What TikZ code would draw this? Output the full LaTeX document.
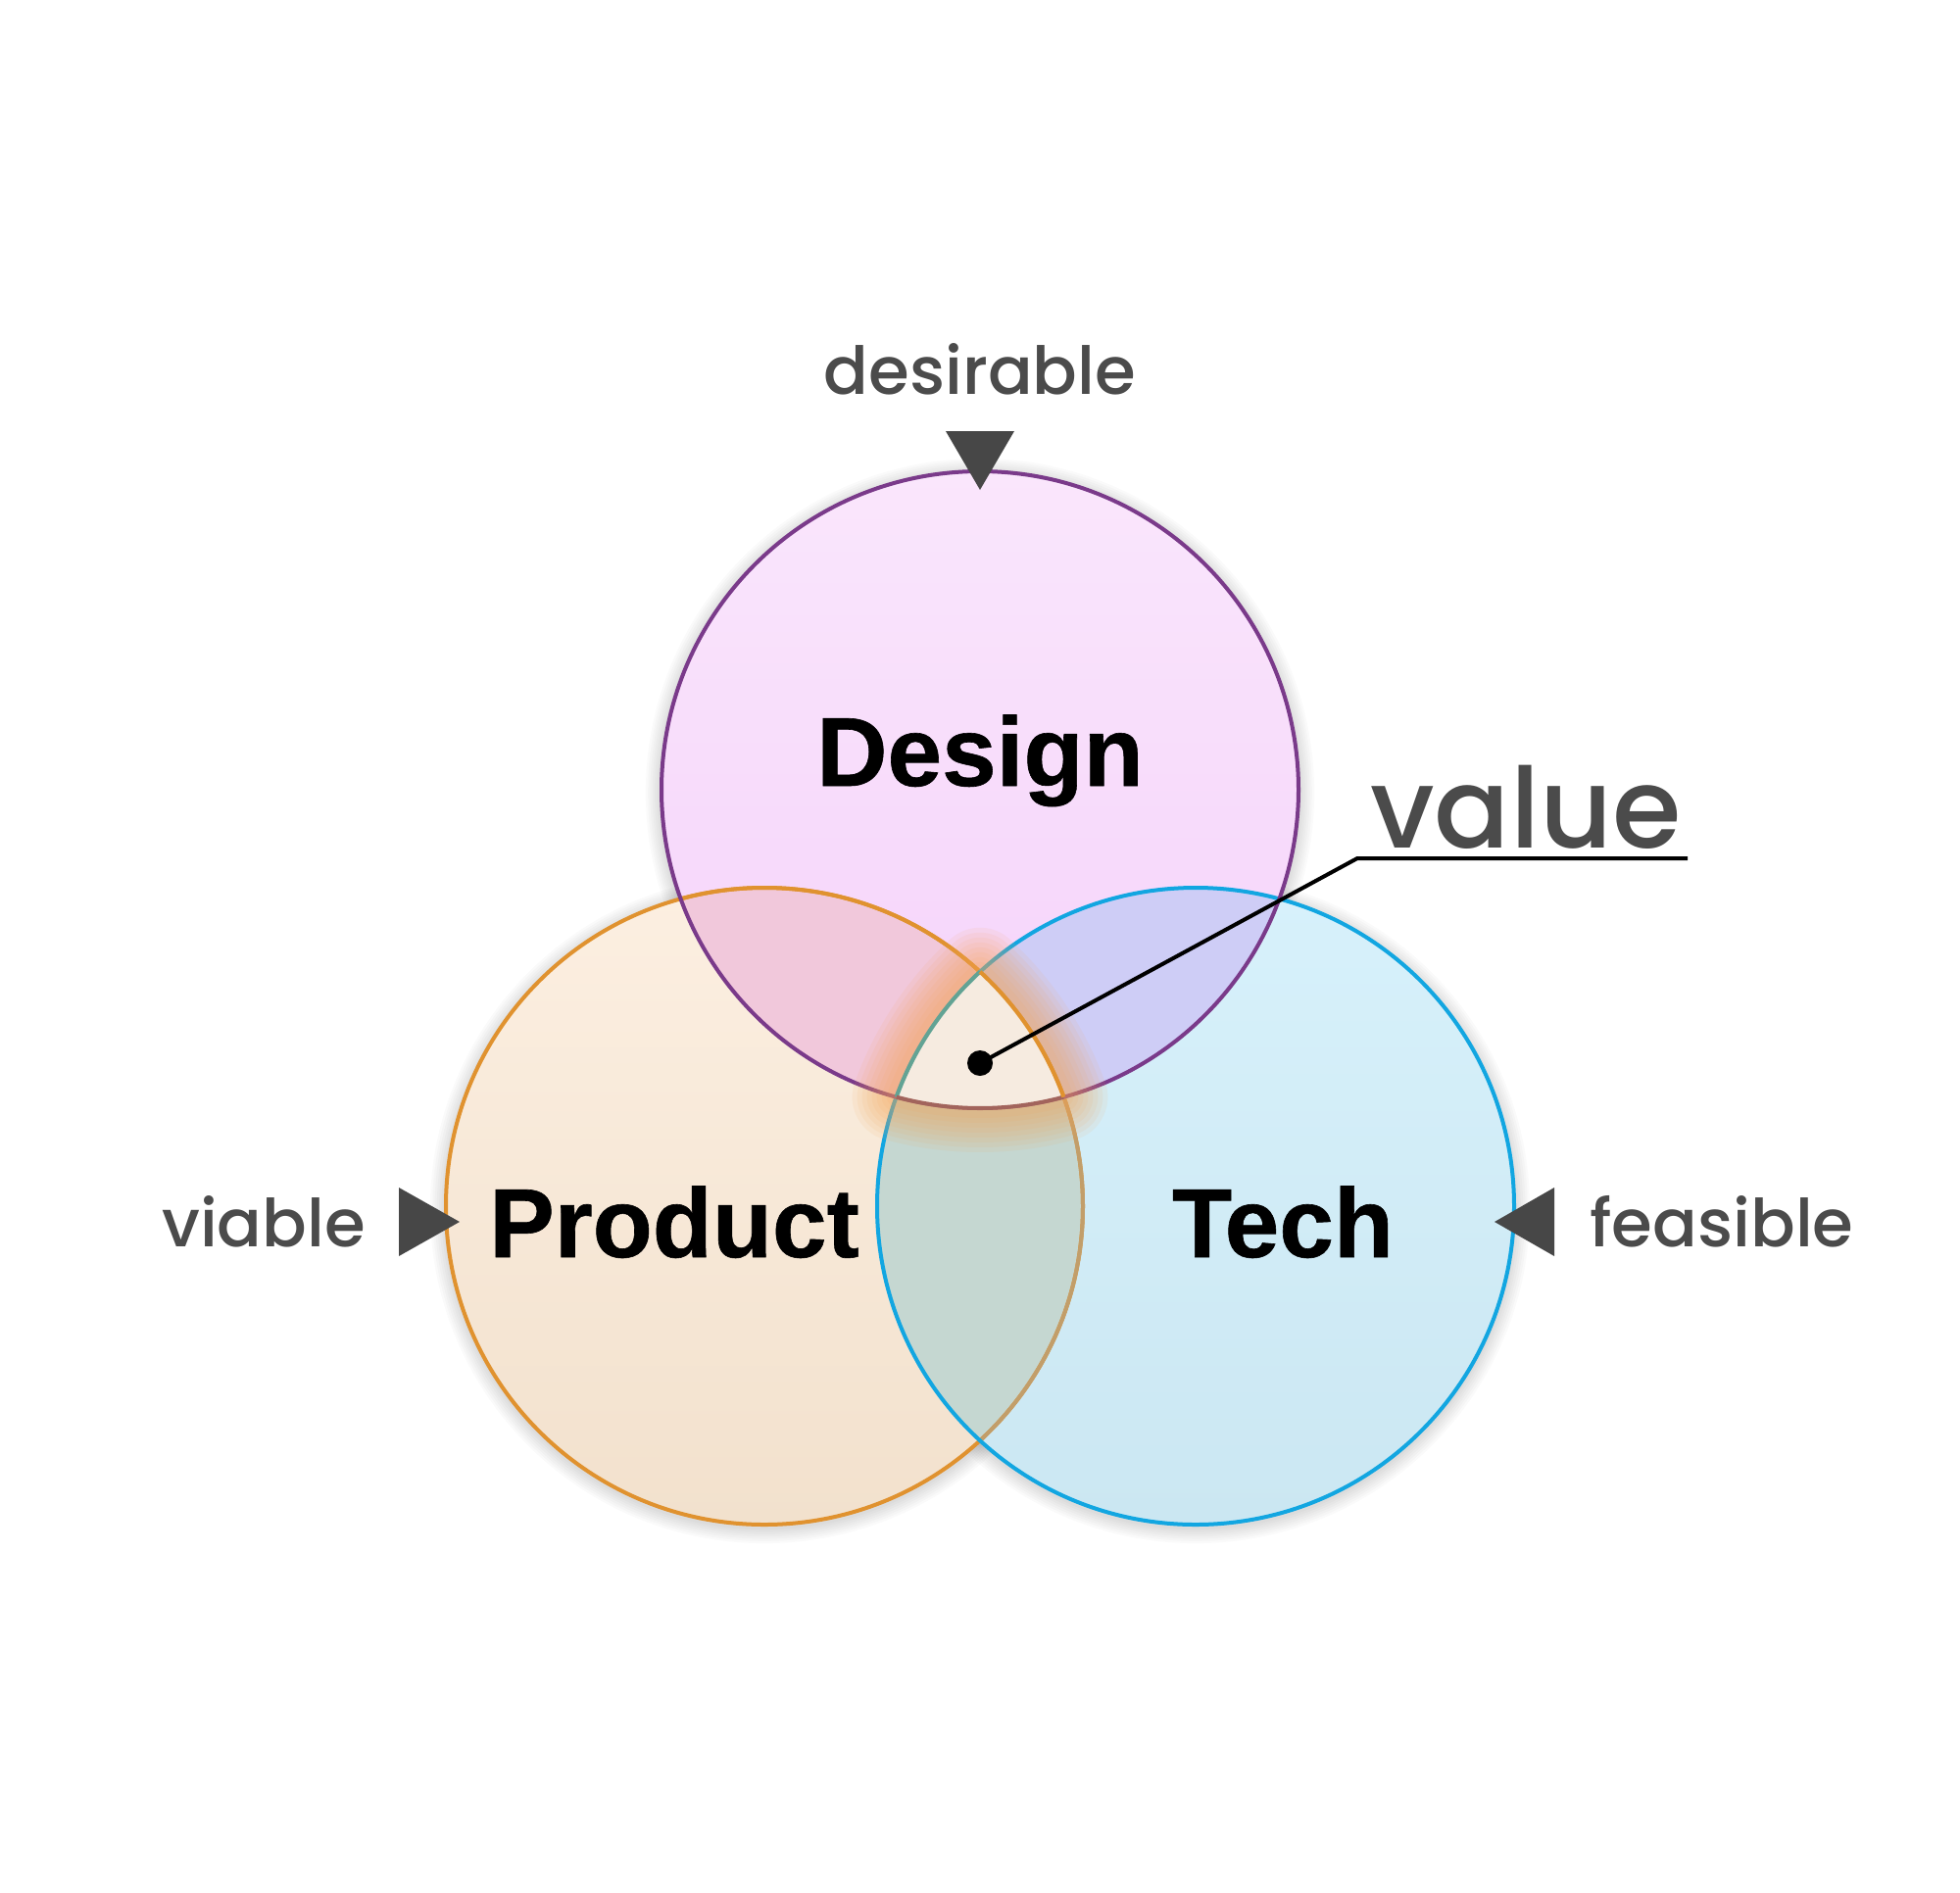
\documentclass[tikz,border=0pt]{standalone}
\usepackage{fontspec}
\setmainfont{Liberation Sans}
\newfontfamily\lblfont{Poppins Medium}
\newfontfamily\bigfont{Liberation Sans Bold}[FakeBold=0.6]
\definecolor{dsnTop}{HTML}{FAE6FC}
\definecolor{dsnBot}{HTML}{F5D2FA}
\definecolor{dsnLine}{HTML}{7A3A8A}
\definecolor{prdTop}{HTML}{FCEFE1}
\definecolor{prdBot}{HTML}{F2E1CD}
\definecolor{prdLine}{HTML}{E0922F}
\definecolor{prdMuted}{HTML}{C29E6A}
\definecolor{tchTop}{HTML}{D7F1FB}
\definecolor{tchBot}{HTML}{CBE7F2}
\definecolor{tchLine}{HTML}{12A6E1}
\definecolor{dpFill}{HTML}{F1C8DB}
\definecolor{dtFill}{HTML}{CECDF6}
\definecolor{ptFill}{HTML}{C5D7D1}
\definecolor{coreFill}{HTML}{F6EBE0}
\definecolor{glowCol}{HTML}{F5A252}
\definecolor{coreT}{HTML}{62A394}
\definecolor{coreD}{HTML}{A2645C}
\definecolor{lblGray}{HTML}{4B4B4B}
\definecolor{ptrGray}{HTML}{474747}
\newcommand\triplepath{plot[domain=0:1,samples=40] ({1220+325*cos(227.4-27.35*\x)},{1231+325*sin(227.4-27.35*\x)}) -- plot[domain=0:1,samples=40] ({1000+325*cos(105.2-30.4*\x)},{806+325*sin(105.2-30.4*\x)}) -- plot[domain=0:1,samples=40] ({780+325*cos(-20.05-27.35*\x)},{1231+325*sin(-20.05-27.35*\x)}) -- cycle}
\begin{document}
\begin{tikzpicture}[x=1pt,y=-1pt,
  lbl/.style={font=\lblfont\fontsize{67.5}{78}\selectfont, text=lblGray, inner sep=0pt, anchor=base},
  valuelbl/.style={font=\lblfont\fontsize{114}{126}\selectfont, text=lblGray, inner sep=0pt, anchor=base},
  big/.style={font=\bigfont\fontsize{100}{110}\selectfont, text=black, inner sep=0pt, anchor=base},
  ring/.style={line width=4pt},
  pointer/.style={fill=ptrGray},
  leader/.style={draw=black, line width=4pt, line join=miter},
  shadowring/.style={fill=black, opacity=0.018}
]
\useasboundingbox (0,0) rectangle (2000,1931);
\fill[white] (0,0) rectangle (2000,1931);

% soft shadows
\foreach \k in {1,...,7}{
  \fill[shadowring] (1000,809) circle[radius={325pt+2.3pt*\k}];
  \fill[shadowring] (780,1234) circle[radius={325pt+2.3pt*\k}];
  \fill[shadowring] (1220,1234) circle[radius={325pt+2.3pt*\k}];
}

% circle fills
\shade[top color=prdTop, bottom color=prdBot] (780,1231) circle (325pt);
\shade[top color=tchTop, bottom color=tchBot] (1220,1231) circle (325pt);
\shade[top color=dsnTop, bottom color=dsnBot] (1000,806) circle (325pt);

% pairwise overlaps
\begin{scope}\clip (1000,806) circle (325pt);
  \fill[dpFill] (780,1231) circle (325pt);
  \fill[dtFill] (1220,1231) circle (325pt);
\end{scope}
\begin{scope}\clip (780,1231) circle (325pt);
  \fill[ptFill] (1220,1231) circle (325pt);
\end{scope}

% outlines
\draw[ring, prdLine] (780,1231) circle (325pt);
\begin{scope}\clip (1220,1231) circle (325pt);
  \draw[ring, prdMuted] (780,1231) circle (325pt);
\end{scope}
\begin{scope}\clip (1000,806) circle (325pt);
  \draw[ring, prdLine] (780,1231) circle (325pt);
\end{scope}
\draw[ring, tchLine] (1220,1231) circle (325pt);
\draw[ring, dsnLine] (1000,806) circle (325pt);

% glow around the common core
\foreach \w in {90,80,70,60,50,40,30,20}{
  \draw[glowCol, opacity=0.09, line width=\w pt, line join=round] \triplepath;
}
\fill[coreFill] \triplepath;
\draw[ring, coreT] plot[domain=0:1,samples=40] ({1220+325*cos(227.4-27.35*\x)},{1231+325*sin(227.4-27.35*\x)});
\draw[ring, coreD] plot[domain=0:1,samples=40] ({1000+325*cos(105.2-30.4*\x)},{806+325*sin(105.2-30.4*\x)});
\draw[ring, prdLine] plot[domain=0:1,samples=40] ({780+325*cos(-20.05-27.35*\x)},{1231+325*sin(-20.05-27.35*\x)});

% pointers
\fill[pointer] (965,440) -- (1035,440) -- (1000,500) -- cycle;
\fill[pointer] (407,1212) -- (407,1282) -- (469,1247) -- cycle;
\fill[pointer] (1586,1212) -- (1586,1282) -- (1525,1247) -- cycle;

% labels
\node[lbl] (desirable) at (1000,402) {desirable};
\node[lbl] (viable) at (269,1272) {viable};
\node[lbl] (feasible) at (1757,1272) {feasible};
\node[valuelbl] (value) at (1557,865) {value};
\node[big] (design) at (1000,802) {Design};
\node[big] (product) at (688,1283) {Product};
\node[big] (tech) at (1309,1283) {Tech};

% value leader
\node[circle, fill=black, minimum size=26pt, inner sep=0pt] (dot) at (1000,1085) {};
\coordinate (bend) at (1385,876);
\coordinate (ulend) at (1722,876);
\draw[leader] (dot.center) -- (bend) -- (ulend);
\end{tikzpicture}
\end{document}
